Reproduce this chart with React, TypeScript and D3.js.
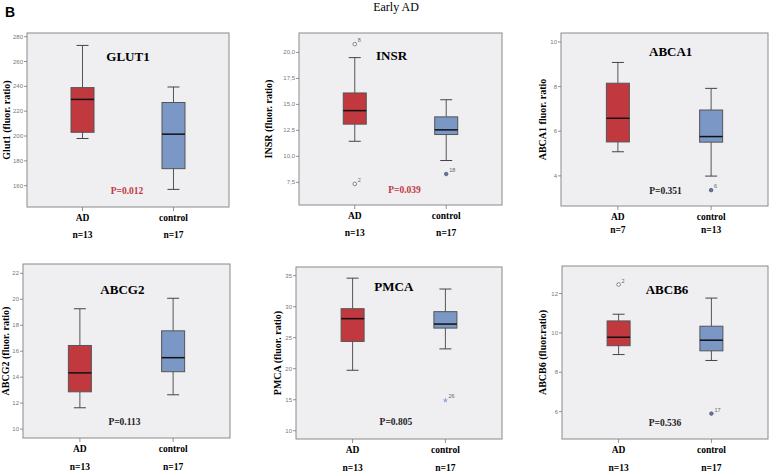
import React, { useEffect, useRef } from 'react';
import * as d3 from 'd3';

// box stats: [min, q1, median, q3, max]
const genes = ['GLUT1', 'INSR', 'ABCA1', 'ABCG2', 'PMCA', 'ABCB6'];
const yTitles = ['Glut1 (fluor. ratio)', 'INSR (fluor. ratio)', 'ABCA1 fluor. ratio', 'ABCG2 (fluor. ratio)', 'PMCA (fluor. ratio)', 'ABCB6 (fluor.ratio)'];
const groups = ['AD', 'control'];
const adStats = [
  [198, 203, 229.5, 239, 273],
  [11.45, 13.1, 14.4, 16.1, 19.5],
  [5.08, 5.52, 6.58, 8.15, 9.08],
  [11.64, 12.87, 14.33, 16.44, 19.27],
  [19.75, 24.4, 28.07, 29.68, 34.6],
  [8.9, 9.35, 9.78, 10.61, 10.95],
];
const controlStats = [
  [157, 173.7, 201.5, 227, 239.5],
  [9.6, 12.1, 12.55, 13.8, 15.45],
  [3.99, 5.51, 5.76, 6.95, 7.92],
  [12.64, 14.42, 15.5, 17.57, 20.08],
  [23.2, 26.55, 27.2, 29.2, 32.85],
  [8.6, 9.09, 9.63, 10.34, 11.77],
];
const adN = [13, 13, 7, 13, 13, 13];
const controlN = [17, 17, 13, 17, 17, 17];
const pValues = ['0.012', '0.039', '0.351', '0.113', '0.805', '0.536'];
const significant = [true, true, false, false, false, false];
const yDomains = [[142.8, 283], [5.32, 21.87], [2.65, 10.4], [9.31, 22.72], [8.67, 36.4], [4.61, 13.4]];
const yTicks = [
  [160, 180, 200, 220, 240, 260, 280],
  [7.5, 10, 12.5, 15, 17.5, 20],
  [4, 6, 8, 10],
  [10, 12, 14, 16, 18, 20, 22],
  [10, 15, 20, 25, 30, 35],
  [6, 8, 10, 12],
];
const commaDecimals = [false, true, false, false, false, false];
// outliers (extreme = star marker in SPSS)
const outliers = [
  { panel: 1, group: 'AD', value: 20.8, case: '8', extreme: false },
  { panel: 1, group: 'AD', value: 7.35, case: '2', extreme: false },
  { panel: 1, group: 'control', value: 8.3, case: '18', extreme: false },
  { panel: 2, group: 'control', value: 3.36, case: '6', extreme: false },
  { panel: 4, group: 'control', value: 14.9, case: '26', extreme: true },
  { panel: 5, group: 'AD', value: 12.46, case: '2', extreme: false },
  { panel: 5, group: 'control', value: 5.9, case: '17', extreme: false },
];

// panel geometry: plot rect, y-title offset, title pos (fraction, dy), P pos (fraction, dy from bottom), n-label dy
const layout = [
  { x0: 27, x1: 229, y0: 33, y1: 207, yt: 21, tx: 0.5, ty: 28, px: 0.495, py: 13, ny: 31 },
  { x0: 299, x1: 502, y0: 33, y1: 205, yt: 31, tx: 0.456, ty: 27, px: 0.52, py: 12, ny: 31 },
  { x0: 561, x1: 768, y0: 33, y1: 206, yt: 19, tx: 0.53, ty: 23, px: 0.505, py: 12, ny: 27 },
  { x0: 23, x1: 230, y0: 264, y1: 438, yt: 18, tx: 0.48, ty: 30, px: 0.49, py: 13, ny: 32 },
  { x0: 296, x1: 502, y0: 267, y1: 439, yt: 19, tx: 0.475, ty: 24, px: 0.485, py: 14, ny: 32 },
  { x0: 562, x1: 768, y0: 266, y1: 439, yt: 20, tx: 0.51, ty: 28, px: 0.5, py: 13, ny: 32 },
];

const serif = '"Liberation Serif", "Times New Roman", serif';
const sans = '"Liberation Sans", Arial, sans-serif';
const RED = '#c1393e';
const BLUE = '#7b97c5';

export default function App() {
  const svgRef = useRef<SVGSVGElement>(null);

  useEffect(() => {
    const svg = d3.select(svgRef.current);
    svg.selectAll('*').remove();

    svg.append('text').attr('x', 5).attr('y', 17)
      .style('font-family', sans).style('font-weight', 'bold').style('font-size', '14px')
      .text('B');

    svg.append('text').attr('x', 396).attr('y', 11).attr('text-anchor', 'middle')
      .style('font-family', serif).style('font-size', '12px')
      .text('Early AD');

    genes.forEach((gene, i) => {
      const L = layout[i];
      const g = svg.append('g');
      const x = d3.scalePoint().domain(groups).range([L.x0, L.x1]).padding(0.61);
      const y = d3.scaleLinear().domain(yDomains[i]).range([L.y1, L.y0]);
      const fmt = (v: number) => commaDecimals[i] ? d3.format('.1f')(v).replace('.', ',') : String(v);

      g.append('rect')
        .attr('x', L.x0).attr('y', L.y0)
        .attr('width', L.x1 - L.x0).attr('height', L.y1 - L.y0)
        .style('fill', '#efeff2').style('stroke', '#8a8a8a').style('stroke-width', 1);

      // y ticks
      const yt = g.selectAll('.yt').data(yTicks[i]).enter().append('g');
      yt.append('line')
        .attr('x1', L.x0 - 3).attr('x2', L.x0)
        .attr('y1', d => y(d)).attr('y2', d => y(d))
        .style('stroke', '#777').style('stroke-width', 0.8);
      yt.append('text')
        .attr('x', L.x0 - 4).attr('y', d => y(d) + 2)
        .attr('text-anchor', 'end')
        .style('font-family', sans).style('font-size', '6px').style('fill', '#777')
        .text(d => fmt(d));

      // y title (baseline a few px right of the measured centre line)
      g.append('text')
        .attr('transform', `translate(${L.x0 - L.yt + 3.5},${(L.y0 + L.y1) / 2}) rotate(-90)`)
        .attr('text-anchor', 'middle')
        .style('font-family', serif).style('font-weight', 'bold').style('font-size', '10px')
        .text(yTitles[i]);

      // x ticks + labels
      groups.forEach((grp, k) => {
        const cx = x(grp) as number;
        g.append('line').attr('x1', cx).attr('x2', cx).attr('y1', L.y1).attr('y2', L.y1 + 4)
          .style('stroke', '#777').style('stroke-width', 0.8);
        g.append('text').attr('x', cx).attr('y', L.y1 + 14).attr('text-anchor', 'middle')
          .style('font-family', serif).style('font-weight', 'bold').style('font-size', '9.5px')
          .text(grp);
        g.append('text').attr('x', cx).attr('y', L.y1 + L.ny).attr('text-anchor', 'middle')
          .style('font-family', serif).style('font-weight', 'bold').style('font-size', '9.5px')
          .text(`n=${k === 0 ? adN[i] : controlN[i]}`);
      });

      // boxes
      const stats = [adStats[i], controlStats[i]];
      const bw = 23;
      stats.forEach((s, k) => {
        const cx = x(groups[k]) as number;
        const [mn, q1, md, q3, mx] = s;
        g.append('line').attr('x1', cx).attr('x2', cx).attr('y1', y(mx)).attr('y2', y(mn))
          .style('stroke', '#555').style('stroke-width', 1);
        [mn, mx].forEach(v => {
          g.append('line').attr('x1', cx - 6).attr('x2', cx + 6).attr('y1', y(v)).attr('y2', y(v))
            .style('stroke', '#444').style('stroke-width', 1);
        });
        g.append('rect')
          .attr('x', cx - bw / 2).attr('y', y(q3))
          .attr('width', bw).attr('height', y(q1) - y(q3))
          .style('fill', k === 0 ? RED : BLUE).style('stroke', '#555').style('stroke-width', 1);
        g.append('line').attr('x1', cx - bw / 2).attr('x2', cx + bw / 2).attr('y1', y(md)).attr('y2', y(md))
          .style('stroke', '#111').style('stroke-width', 1.5);
      });

      // outliers
      outliers.filter(o => o.panel === i).forEach(o => {
        const cx = x(o.group) as number;
        const cy = y(o.value);
        if (o.extreme) {
          g.append('path')
            .attr('d', d3.symbol().type(d3.symbolStar).size(10)())
            .attr('transform', `translate(${cx},${cy})`)
            .style('fill', '#8fa8dd');
        } else if (o.group === 'AD') {
          g.append('circle').attr('cx', cx).attr('cy', cy).attr('r', 1.8)
            .style('fill', '#fff').style('stroke', '#666').style('stroke-width', 0.8);
        } else {
          g.append('circle').attr('cx', cx).attr('cy', cy).attr('r', 1.8)
            .style('fill', '#5e78b5').style('stroke', '#444').style('stroke-width', 0.6);
        }
        g.append('text').attr('x', cx + 3).attr('y', cy - 2)
          .style('font-family', sans).style('font-size', '5.5px').style('fill', '#666')
          .text(o.case);
      });

      // gene title
      g.append('text')
        .attr('x', L.x0 + (L.x1 - L.x0) * L.tx).attr('y', L.y0 + L.ty)
        .attr('text-anchor', 'middle')
        .style('font-family', serif).style('font-weight', 'bold').style('font-size', '13px')
        .text(gene);

      // p value
      g.append('text')
        .attr('x', L.x0 + (L.x1 - L.x0) * L.px).attr('y', L.y1 - L.py)
        .attr('text-anchor', 'middle')
        .style('font-family', serif).style('font-weight', 'bold').style('font-size', '9.5px')
        .style('fill', significant[i] ? RED : '#222')
        .text(`P=${pValues[i]}`);
    });
  }, []);

  return (
    <svg ref={svgRef} width={769} height={473} style={{ position: 'absolute', left: 0, top: 0, background: '#fff' }}></svg>
  );
}
